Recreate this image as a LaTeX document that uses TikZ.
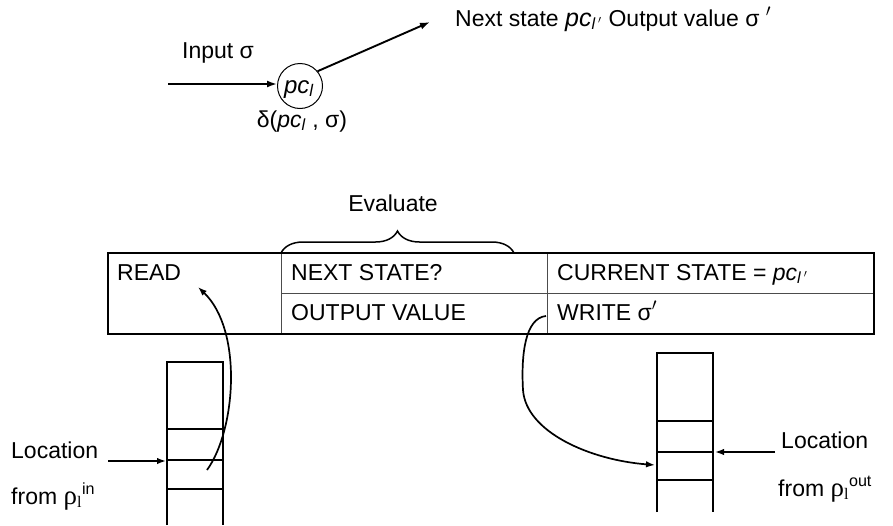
\documentclass[tikz,border=0pt]{standalone}
\usepackage{fontspec}
\setmainfont{Liberation Sans}
\newfontfamily\serifface{Liberation Serif}
\usetikzlibrary{arrows.meta,decorations.pathreplacing}
\newcommand{\pcsym}{\textit{pc}}
\newcommand{\lsub}{\textsubscript{\textit{l}}}
\newcommand{\lpsub}{\textsubscript{\textit{l}\,$'$}}
\newcommand{\rhol}{{\serifface\fontsize{27}{28}\selectfont ρ}\textsubscript{{\serifface l}}}
\begin{document}
\begin{tikzpicture}[x=1pt,y=-1pt,
  every node/.style={font=\fontsize{23}{26}\selectfont, inner sep=0pt},
  lbl/.style={anchor=base west},
  arr/.style={-{Latex[length=10pt,width=7pt]}, line width=1.9pt},
  thinarr/.style={-{Latex[length=9pt,width=6.5pt]}, line width=1.7pt},
  frame/.style={line width=2.2pt},
  cell/.style={line width=0.9pt, draw=black!70},
  stackline/.style={line width=2pt}]
\useasboundingbox (0,0) rectangle (893,525);

% --- state transition sketch ---
\node[draw, circle, minimum size=45pt, line width=1pt] (pc) at (300,86) {};
\node[anchor=base] (pctext) at (299,93) {\fontsize{24}{26}\selectfont\pcsym\lsub};
\coordinate (inStart) at (168,84);
\draw[arr] (inStart) -- (pc.west |- inStart);
\node[anchor=base] (inlbl) at (218,58) {Input σ};
\node[anchor=base] (delta) at (302,127) {δ(\pcsym\lsub\ , σ)};
\coordinate (outTip) at (430,22);
\draw[arr] (pc.40) -- (outTip);
\node[lbl] (nextlbl) at (455,26) {Next state {\fontsize{25}{27}\selectfont\pcsym}\lpsub\ Output value σ $'$};

% --- evaluation table ---
\node[anchor=base] (evallbl) at (393,211) {Evaluate};
\draw[line width=1.5pt, decorate, decoration={brace, amplitude=22pt}]
  (281,253) -- (514,253);

\coordinate (tl) at (108,253);
\coordinate (br) at (874,334);
\draw[cell] (281,293) -- (874,293);
\draw[cell] (281,253) -- (281,334);
\draw[cell] (547,253) -- (547,334);
\draw[frame] (tl) rectangle (br);

\node[lbl] (read) at (117,280) {READ};
\node[lbl] (next) at (291,280) {NEXT STATE?};
\node[lbl] (cur) at (557,280) {CURRENT STATE = \pcsym\lpsub};
\node[lbl] (outv) at (291,320) {OUTPUT VALUE};
\node[lbl] (write) at (557,320) {WRITE σ$'$};

% --- input tape ---
\draw[stackline] (167,525) -- (167,362) -- (223,362) -- (223,525);
\foreach \yy in {429,460,489} \draw[stackline] (167,\yy) -- (223,\yy);
\coordinate (inLocTail) at (108,461);
\coordinate (inLocHead) at (166,461);
\draw[thinarr] (inLocTail) -- (inLocHead);
\node[lbl] (inloc) at (11,458) {Location};
\node[lbl] (infrom) at (11,504) {from \rhol\textsuperscript{in}};
\coordinate (readStart) at (207,470);
\coordinate (readTip) at (198,287);
\draw[thinarr] (readStart) .. controls (236,430) and (243,330) .. (readTip);

% --- output tape ---
\draw[stackline] (657,512) -- (657,353) -- (713,353) -- (713,512);
\foreach \yy in {421,452,480} \draw[stackline] (657,\yy) -- (713,\yy);
\coordinate (outLocTail) at (775,452);
\coordinate (outLocHead) at (715,452);
\draw[thinarr] (outLocTail) -- (outLocHead);
\node[lbl] (outloc) at (781,448) {Location};
\node[lbl] (outfrom) at (778,496) {from \rhol\textsuperscript{out}};
\coordinate (writeStart) at (546,316);
\coordinate (writeTip) at (655,465);
\draw[thinarr] (writeStart) .. controls (525,318) and (521,355) .. (523,390)
  .. controls (526,432) and (590,460) .. (writeTip);
\end{tikzpicture}
\end{document}
